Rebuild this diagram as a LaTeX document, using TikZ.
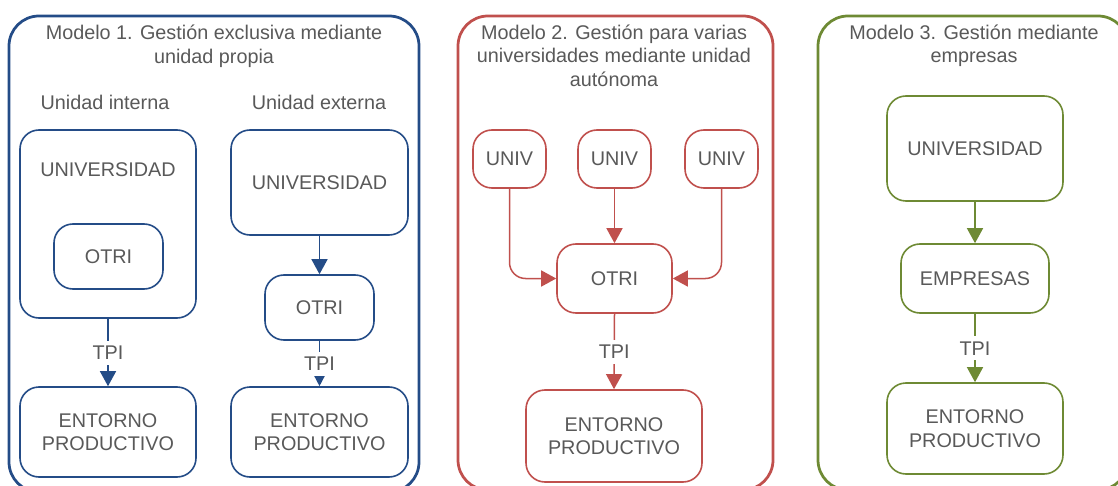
\documentclass[tikz,border=0pt]{standalone}
\usepackage{fontspec}
\setmainfont{Liberation Sans}
\usetikzlibrary{arrows.meta}

\definecolor{inkgray}{RGB}{89,89,89}
\definecolor{mblue}{RGB}{36,76,135}
\definecolor{mred}{RGB}{192,80,77}
\definecolor{mgreen}{RGB}{110,138,52}

\tikzset{
  txt/.style={text=inkgray, font=\fontsize{19.8}{23.5}\selectfont, inner sep=0pt},
  panel/.style={draw=#1, line width=2.75pt, rounded corners=30pt, inner sep=0pt},
  boxn/.style={draw=#1, line width=1.6pt, rounded corners=19pt, txt, align=center},
  conn/.style={draw=#1, line width=1.5pt, -{Triangle[width=16pt,length=15pt]}},
  connsmall/.style={draw=#1, line width=1.5pt, -{Triangle[width=11pt,length=11pt]}},
  tpi/.style={txt, fill=white, inner xsep=3pt, inner ysep=5pt, text height=14pt, text depth=0pt},
}

\begin{document}
\begin{tikzpicture}[x=1pt,y=-1pt]
\useasboundingbox (0,0) rectangle (1118,486);
\clip (0,0) rectangle (1118,486);

% ---------- Modelo 1 ----------
\node[panel=mblue, minimum width=410pt, minimum height=476pt] (p1) at (214,254) {};
\node[txt, anchor=base] (t1a) at (214,40) {Modelo 1. Gestión exclusiva mediante};
\node[txt, anchor=base] (t1b) at (214,64) {unidad propia};
\node[txt, anchor=base] (h1) at (105,110) {Unidad interna};
\node[txt, anchor=base] (h2) at (319,110) {Unidad externa};

% unidad interna
\node[boxn=mblue, minimum width=176pt, minimum height=188pt] (ua) at (108,224) {};
\node[txt, anchor=base] (uat) at (108,177) {UNIVERSIDAD};
\node[boxn=mblue, minimum width=109pt, minimum height=65pt] (oa) at (108.5,256.5) {OTRI};
\node[boxn=mblue, minimum width=176pt, minimum height=90pt] (ea) at (108,432) {ENTORNO\\PRODUCTIVO};
\draw[conn=mblue] (ua.south) -- node[tpi] (tpa) {TPI} (ea.north);

% unidad externa
\node[boxn=mblue, minimum width=177pt, minimum height=105pt] (ub) at (319.5,182.5) {UNIVERSIDAD};
\node[boxn=mblue, minimum width=109pt, minimum height=65pt] (ob) at (319.5,307.5) {OTRI};
\node[boxn=mblue, minimum width=177pt, minimum height=90pt] (eb) at (319.5,432) {ENTORNO\\PRODUCTIVO};
\draw[conn=mblue] (ub.south) -- (ob.north);
\draw[connsmall=mblue] (ob.south) -- node[tpi] (tpb) {TPI} (eb.north);

% ---------- Modelo 2 ----------
\node[panel=mred, minimum width=315pt, minimum height=474pt] (p2) at (615.5,253) {};
\node[txt, anchor=base] (t2a) at (614,39.5) {Modelo 2. Gestión para varias};
\node[txt, anchor=base] (t2b) at (614,63) {universidades mediante unidad};
\node[txt, anchor=base] (t2c) at (614,86.5) {autónoma};

\node[boxn=mred, minimum width=73pt, minimum height=58pt] (v1) at (509.5,159) {UNIV};
\node[boxn=mred, minimum width=73pt, minimum height=58pt] (v2) at (614.5,159) {UNIV};
\node[boxn=mred, minimum width=73pt, minimum height=58pt] (v3) at (721.5,159) {UNIV};
\node[boxn=mred, minimum width=115pt, minimum height=69pt] (o2) at (614.5,278.5) {OTRI};
\node[boxn=mred, minimum width=176pt, minimum height=92pt] (e2) at (614,436) {ENTORNO\\PRODUCTIVO};

\draw[conn=mred, rounded corners=16pt] (v1.south) |- (o2.west);
\draw[conn=mred] (v2.south) -- (o2.north);
\draw[conn=mred, rounded corners=16pt] (v3.south) |- (o2.east);
\draw[conn=mred] (o2.south) -- node[tpi] (tp2) {TPI} (e2.north);

% ---------- Modelo 3 ----------
\node[panel=mgreen, minimum width=310pt, minimum height=474pt] (p3) at (973,253) {};
\node[txt, anchor=base] (t3a) at (974,39.5) {Modelo 3. Gestión mediante};
\node[txt, anchor=base] (t3b) at (974,62.5) {empresas};

\node[boxn=mgreen, minimum width=176pt, minimum height=105pt] (u3) at (975,148.5) {UNIVERSIDAD};
\node[boxn=mgreen, minimum width=148pt, minimum height=69pt] (m3) at (975,278.5) {EMPRESAS};
\node[boxn=mgreen, minimum width=176pt, minimum height=91pt] (e3) at (975,428.5) {ENTORNO\\PRODUCTIVO};

\draw[conn=mgreen] (u3.south) -- (m3.north);
\draw[conn=mgreen] (m3.south) -- node[tpi] (tp3) {TPI} (e3.north);
\end{tikzpicture}
\end{document}
